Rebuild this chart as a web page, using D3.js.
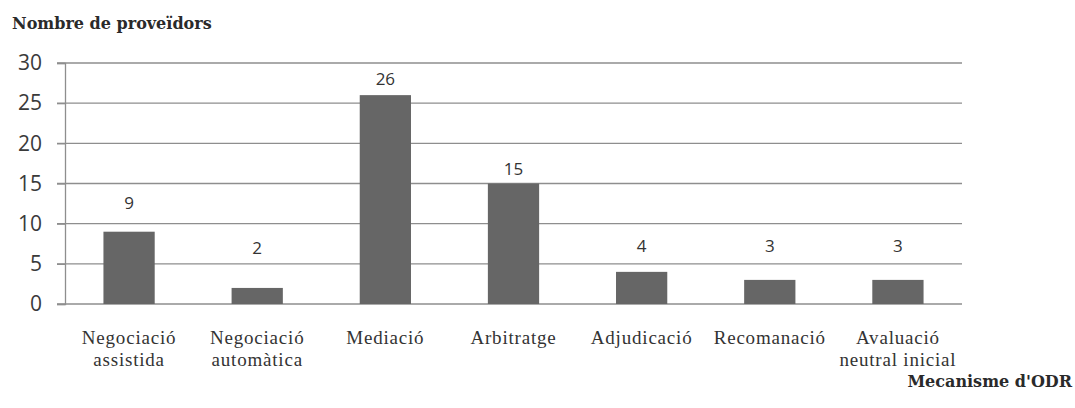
<!DOCTYPE html>
<html>
<head>
<meta charset="utf-8">
<script src="https://cdn.jsdelivr.net/npm/d3@7"></script>
<style>
    body { margin: 0; background: #fff; }
    svg { display: block; }
</style>
</head>
<body>
<svg id="chart" width="1075" height="408"></svg>
<script>
// DATA
const categories = [
    ['Negociació', 'assistida'],
    ['Negociació', 'automàtica'],
    ['Mediació'],
    ['Arbitratge'],
    ['Adjudicació'],
    ['Recomanació'],
    ['Avaluació', 'neutral inicial']
];
const providers = [9, 2, 26, 15, 4, 3, 3];
const yTicks = [0, 5, 10, 15, 20, 25, 30];
const yTitle = 'Nombre de proveïdors';
const xTitle = "Mecanisme d'ODR";

const svg = d3.select('#chart');

// MARGINS
const margin = { top: 63, right: 113, bottom: 104, left: 65 };
const width = +svg.attr('width') - margin.left - margin.right;
const height = +svg.attr('height') - margin.top - margin.bottom;

const g = svg.append('g').attr('transform', `translate(${margin.left},${margin.top})`);

// SCALES
const keys = categories.map(c => c.join(' '));
const x = d3.scaleBand().domain(keys).range([0, width]).paddingInner(0.6).paddingOuter(0.3);
const y = d3.scaleLinear().domain([0, 30]).range([height, 0]);

// GRID
g.append('g')
    .selectAll('line')
    .data(yTicks)
    .join('line')
    .attr('x1', -8)
    .attr('x2', width)
    .attr('y1', d => y(d))
    .attr('y2', d => y(d))
    .attr('stroke', '#8e8e8e')
    .attr('stroke-width', 1.3);

// Y AXIS
const yAxis = g.append('g').call(d3.axisLeft(y).tickValues(yTicks).tickSize(8).tickPadding(15));
yAxis.select('.domain').attr('stroke', '#8e8e8e').attr('stroke-width', 1.3);
yAxis.selectAll('.tick line').attr('stroke', '#8e8e8e').attr('stroke-width', 1.3);
yAxis.selectAll('.tick text')
    .attr('fill', '#3a3a3a')
    .style('font-family', '"Open Sans", sans-serif')
    .style('font-size', '21px');

// BARS
g.selectAll('rect.bar')
    .data(providers)
    .join('rect')
    .attr('class', 'bar')
    .attr('x', (d, i) => x(keys[i]))
    .attr('y', d => y(d))
    .attr('width', x.bandwidth())
    .attr('height', d => height - y(d))
    .attr('fill', '#666666');

// value labels (Excel placed the small ones a bit higher)
const labelGap = [23, 34, 10, 9, 20, 28, 28];
g.selectAll('text.value')
    .data(providers)
    .join('text')
    .attr('class', 'value')
    .attr('x', (d, i) => x(keys[i]) + x.bandwidth() / 2)
    .attr('y', (d, i) => y(d) - labelGap[i])
    .attr('text-anchor', 'middle')
    .attr('fill', '#333')
    .style('font-family', '"Open Sans", sans-serif')
    .style('font-size', '17px')
    .text(d => d);

// CATEGORY LABELS
const cat = g.selectAll('text.cat')
    .data(categories)
    .join('text')
    .attr('class', 'cat')
    .attr('x', (d, i) => x(keys[i]) + x.bandwidth() / 2)
    .attr('y', height + 40)
    .attr('text-anchor', 'middle')
    .attr('fill', '#333')
    .style('font-family', '"Liberation Serif", serif')
    .style('font-size', '19px')
    .style('letter-spacing', '0.8px');
cat.selectAll('tspan')
    .data(d => d)
    .join('tspan')
    .attr('x', function () { return this.parentNode.getAttribute('x'); })
    .attr('dy', (d, i) => (i === 0 ? 0 : 22))
    .text(d => d);

// AXIS TITLES
svg.append('text')
    .attr('x', 12)
    .attr('y', 29)
    .attr('fill', '#2a2a2a')
    .style('font-family', '"DejaVu Serif", serif')
    .style('font-weight', 'bold')
    .style('font-size', '16px')
    .text(yTitle);

svg.append('text')
    .attr('x', 1072)
    .attr('y', 387)
    .attr('text-anchor', 'end')
    .attr('fill', '#2a2a2a')
    .style('font-family', '"DejaVu Serif", serif')
    .style('font-weight', 'bold')
    .style('font-size', '16px')
    .text(xTitle);
</script>
</body>
</html>
